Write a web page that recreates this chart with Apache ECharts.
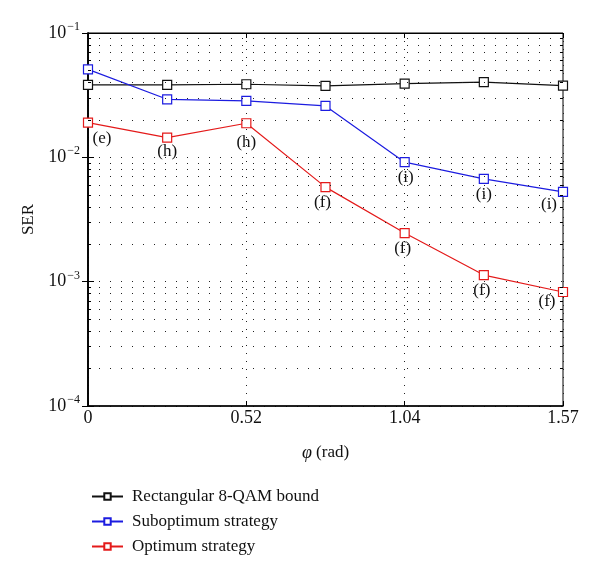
<!DOCTYPE html>
<html>
<head>
<meta charset="utf-8">
<script src="https://cdn.jsdelivr.net/npm/echarts@6/dist/echarts.min.js"></script>
<style>
  html, body { margin: 0; padding: 0; background: #fff; }
  #chart { width: 600px; height: 574px; }
</style>
</head>
<body>
<div id="chart"></div>
<script>
  // phi values (rad), steps of pi/12
  const phi = [0, 0.2618, 0.5236, 0.7854, 1.0472, 1.309, 1.5708];
  const boundSER = [0.0382, 0.0382, 0.0387, 0.0375, 0.0392, 0.0402, 0.0377];
  const suboptSER = [0.051, 0.0293, 0.0284, 0.0259, 0.00914, 0.00672, 0.00528];
  const optSER = [0.0190, 0.0144, 0.0188, 0.00576, 0.00246, 0.00113, 0.000826];
  const optTags = ['(e)', '(h)', '(h)', '(f)', '(f)', '(f)', '(f)'];
  const suboptTags = ['', '', '', '', '(i)', '(i)', '(i)'];
  const xTickLabels = ['0', '0.52', '1.04', '1.57'];
  const seriesNames = ['Rectangular 8-QAM bound', 'Suboptimum strategy', 'Optimum strategy'];
  const decades = [-4, -3, -2];

  const font = '"Liberation Serif", "DejaVu Serif", serif';
  const xStep = 0.5236;
  const xMax = 1.5708;

  // label nudges, one per point
  const optOffsets = [[14, 0], [0, -2], [0, 4], [-3, 0], [-2, 0], [-2, 0], [-16, -6]];
  const suboptOffsets = [[0, 0], [0, 0], [0, 0], [0, 0], [1, 0], [0, 0], [-14, -3]];

  let chart = echarts.init(document.getElementById('chart'));

  // dotted minor grid rows + small ticks on left/right edges
  const minorRows = [];
  const minorTicks = [];
  decades.forEach(d => {
    for (let k = 2; k <= 9; k++) {
      const v = k * Math.pow(10, d);
      minorRows.push([{ coord: [0, v] }, { coord: [xMax, v] }]);
      minorTicks.push([{ coord: [0, v] }, { coord: [0.01, v] }]);
      minorTicks.push([{ coord: [xMax - 0.01, v] }, { coord: [xMax, v] }]);
    }
  });

  function pts(ys, tags, offs) {
    return ys.map((y, i) => {
      const item = { value: [phi[i], y] };
      if (tags && tags[i]) {
        item.label = { show: true, formatter: tags[i], offset: offs[i] };
      }
      return item;
    });
  }

  function lineSeries(name, color, ys, tags, offs) {
    return {
      name: name,
      type: 'line',
      data: pts(ys, tags, offs),
      symbol: 'rect',
      symbolSize: 9,
      lineStyle: { color: color, width: 1.2 },
      itemStyle: { color: '#fff', borderColor: color, borderWidth: 1.2 },
      label: {
        show: false,
        position: 'bottom',
        distance: 2,
        fontFamily: font,
        fontSize: 17,
        color: '#111'
      },
      animation: false
    };
  }

  const sup = {
    b: { fontFamily: font, fontSize: 18, color: '#111' },
    s: { fontFamily: font, fontSize: 12, color: '#111', verticalAlign: 'top', padding: [0, 0, 12, 1] }
  };

  const dotted = { color: '#222', type: [1, 10], width: 1 };

  const option = {
    backgroundColor: '#fff',
    animation: false,
    grid: { left: 88, right: 37, top: 33, bottom: 168, show: true, borderColor: '#000', borderWidth: 1 },
    legend: {
      data: seriesNames,
      orient: 'vertical',
      left: 86,
      top: 483,
      itemWidth: 31,
      itemHeight: 8,
      itemGap: 8,
      textStyle: { fontFamily: font, fontSize: 17, color: '#111', padding: [0, 0, 0, 4] }
    },
    xAxis: [{
      type: 'value',
      min: 0,
      max: xMax,
      interval: xStep,
      name: '{i|φ} (rad)',
      nameLocation: 'middle',
      nameGap: 38,
      nameTextStyle: {
        fontFamily: font, fontSize: 17, color: '#111',
        rich: { i: { fontFamily: font, fontSize: 18, fontStyle: 'italic', color: '#111' } }
      },
      axisLine: { show: true, lineStyle: { color: '#000', width: 1.5 } },
      axisTick: { inside: true, length: 5, lineStyle: { color: '#000' } },
      axisLabel: {
        fontFamily: font, fontSize: 18, color: '#111', margin: 3,
        formatter: v => xTickLabels[Math.round(v / xStep)]
      },
      splitLine: { show: true, lineStyle: { color: '#222', type: [1, 7], width: 1 } }
    }, {
      type: 'value',
      position: 'top',
      min: 0,
      max: xMax,
      interval: xStep,
      axisLine: { show: true, lineStyle: { color: '#000' } },
      axisTick: { inside: true, length: 5, lineStyle: { color: '#000' } },
      axisLabel: { show: false },
      splitLine: { show: false }
    }],
    yAxis: [{
      type: 'log',
      logBase: 10,
      min: 1e-4,
      max: 1e-1,
      name: 'SER',
      nameLocation: 'middle',
      nameGap: 48,
      nameRotate: 90,
      nameTextStyle: { fontFamily: font, fontSize: 17, color: '#111' },
      axisLine: { show: true, lineStyle: { color: '#000', width: 1.5 } },
      axisTick: { inside: true, length: 6, lineStyle: { color: '#000' } },
      axisLabel: {
        margin: 8,
        formatter: v => '{b|10}{s|−' + Math.round(-Math.log10(v)) + '}',
        rich: sup
      },
      splitLine: { show: true, lineStyle: dotted }
    }, {
      type: 'log',
      logBase: 10,
      position: 'right',
      min: 1e-4,
      max: 1e-1,
      axisLine: { show: true, lineStyle: { color: '#000', width: 1.5 } },
      axisTick: { inside: true, length: 6, lineStyle: { color: '#000' } },
      axisLabel: { show: false },
      splitLine: { show: false }
    }],
    series: [
      {
        type: 'line',
        data: [],
        silent: true,
        markLine: {
          silent: true,
          symbol: ['none', 'none'],
          label: { show: false },
          lineStyle: dotted,
          data: minorRows,
          animation: false
        }
      },
      {
        type: 'line',
        data: [],
        silent: true,
        markLine: {
          silent: true,
          symbol: ['none', 'none'],
          label: { show: false },
          lineStyle: { color: '#000', type: 'solid', width: 1 },
          data: minorTicks,
          animation: false
        }
      },
      lineSeries(seriesNames[0], '#111111', boundSER),
      lineSeries(seriesNames[1], '#1c1ce0', suboptSER, suboptTags, suboptOffsets),
      lineSeries(seriesNames[2], '#e41a1a', optSER, optTags, optOffsets)
    ]
  };

  chart.setOption(option);
</script>
</body>
</html>
